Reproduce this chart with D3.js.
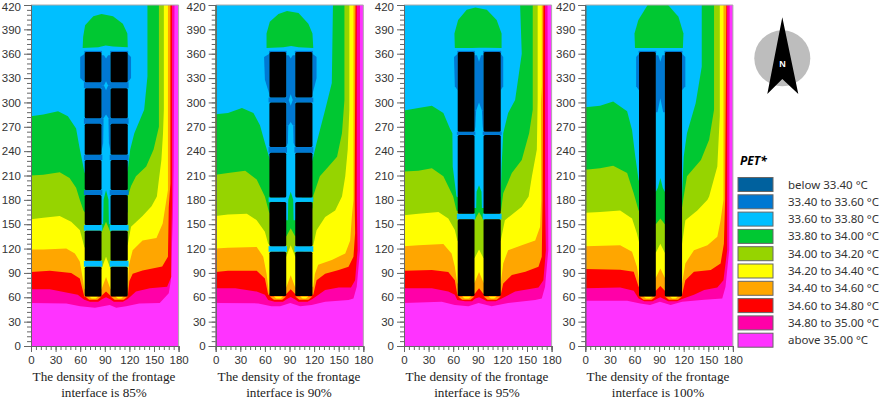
<!DOCTYPE html>
<html>
<head>
<meta charset="utf-8">
<script src="https://d3js.org/d3.v7.min.js"></script>
<style>
body { margin: 0; background: #fff; }
svg { display: block; }
.tick text { font-family: "Liberation Sans", sans-serif; font-size: 11.5px; fill: #333; }
</style>
</head>
<body>
<div id="chart"></div>
<script>
var densities = [85, 90, 95, 100];

// band colours, coolest first
var bandLabels = ["below 33.40 °C", "33.40 to 33.60 °C", "33.60 to 33.80 °C", "33.80 to 34.00 °C", "34.00 to 34.20 °C",
    "34.20 to 34.40 °C", "34.40 to 34.60 °C", "34.60 to 34.80 °C", "34.80 to 35.00 °C", "above 35.00 °C"];
var bandColors = ["#00619e", "#0078d2", "#00bfff", "#00c832", "#96d400", "#ffff00", "#ffa600", "#ff0000", "#ff00a8", "#ff33ff"];

// isotherm outlines, x then y. each one runs from the left edge to the top
// order: 35.0, 34.8, 34.6, 34.4, 34.2, 34.0, 33.8
var lines85 = [
    [[0,53],[43,52.5],[60,49],[78,47],[88,49],[96,50.5],[104,47],[116,49],[132,52.5],[157,53],[168,65],[170.5,80],[173,159],[174,221],[175,420]],
    [[0,70],[23,70],[43,66],[57,63],[65,57],[72,54.5],[82,54.5],[87,58],[91.5,60],[96,58],[101,54.5],[112,54.5],[118,58],[128,67],[145,71],[166,73],[171,85],[171,126],[172,176],[172,420]],
    [[0,91],[23,92.6],[49,90],[59.5,83],[63.5,67],[65,61],[86,62],[91.5,67],[97,62],[118,62],[120,80],[124,89],[136,93],[160,98],[167,110],[168,171],[170,200],[170,420]],
    [[0,119],[15,119],[43,120],[53.5,114],[59.5,104],[63.5,81],[65,70],[86,70],[91.5,85],[97,70],[118,72],[119.5,100],[124,118],[136,130],[153,133],[160.6,151],[167,192],[167,420]],
    [[0,156],[15,158],[35,160],[49,153],[59.5,143],[63,130],[65,122],[86,95],[91.5,110],[97,95],[118,125],[122,147],[136,160],[147,172],[153.5,184],[156,205],[159,229],[161,262],[162,291],[162,420]],
    [[0,210],[15,211],[35,214],[47,207],[55,195],[59.5,180],[64,167],[86,140],[91.5,153],[97,140],[118,165],[118,184],[122,197],[128,209],[140.5,221],[149.5,242],[156,270],[156,420]],
    [[0,283],[15,285],[33,289],[45,283],[55,268],[59,245],[63,225],[65,215],[86,150],[88,150],[88.5,180],[91.5,192],[94.5,180],[95,150],[97,150],[118,217],[121,242],[126,262],[138,291],[142,332],[142,420]]
];
var lines90 = [
    [[0,53],[52,52.5],[68,49],[78.5,49],[91,53],[103,49],[117,50.4],[133.5,54.5],[162,56.6],[168,58.6],[172,73],[176,118],[176,420]],
    [[0,71],[24,71],[50,67],[60,63],[64,56.6],[72,54.5],[82,54.5],[87,58],[91.5,60.5],[96,58],[101,54.5],[112,54.5],[118,58],[133.5,69],[150,72],[165,72],[170,81],[173,118],[172,180],[172,420]],
    [[0,91],[15,92.7],[50,92.7],[60,83],[64,63],[86,64],[91.5,70],[97,64],[119,63],[123,81],[133.5,89],[150,93.5],[162,97.6],[168,110],[170,139],[169.5,180],[170.5,420]],
    [[0,120],[15,121],[50,122],[58,110],[62,89],[65,65],[86,72],[91.5,87],[97,72],[119,73],[121,89],[125,100],[141.6,106],[158,114],[164,130],[166,159],[168,180],[168,420]],
    [[0,160],[15,162],[38,163],[50,155],[60,140.6],[64,126],[86,110],[91.5,124],[97,110],[119,124],[123,142.7],[133.5,159],[145.7,167],[154,184],[158,209],[161,242],[163,291],[163,420]],
    [[0,211],[15,213],[36,216],[50,205],[60,184],[65,165],[86,135],[91.5,145],[97,135],[118,170],[119,185],[127,209],[137.6,221],[148,233],[154,262],[157,303],[157,420]],
    [[0,285.5],[15,287],[32,293],[46,287],[54,272],[60,250],[65,233],[86,155],[88,155],[88.5,180],[91.5,190],[94.5,180],[95,155],[97,155],[119,233],[123,250],[133.5,291],[141.6,324],[143,420]]
];
var lines95 = [
    [[0,53],[46,54.5],[62,50.4],[78.5,49],[91,53],[107,49],[127,53],[160,56.6],[168,58.6],[172,73],[176,118],[175,420]],
    [[0,71],[34,71],[54,67],[62,63],[65,56.6],[74.5,55],[83,55],[87,58.6],[91.5,60],[96,58],[101,55],[112,55],[118,58],[135.5,67],[164,72],[170,81],[173,118],[172,180],[172,420]],
    [[0,92.7],[34,93.5],[54,91],[62,81],[65,63],[86,64],[91.5,71],[97,64],[118,63],[121,77],[131.5,87.5],[148,91.5],[164,97.6],[168,110],[169,180],[170,420]],
    [[0,123],[17.5,124],[48,125.5],[58,114],[62,97.6],[65,77],[86,78],[91.5,91],[97,78],[118,77],[121,101.7],[127,118],[143.6,124],[160,130],[166,147],[167.3,180],[167,300],[168,320],[168,420]],
    [[0,161],[17.5,163],[42,165],[54,157],[62,143],[65,130],[86,108],[91.5,119],[97,108],[118,130],[123,155],[143.6,171.6],[152,184],[156,209],[162,242],[163,303],[163,420]],
    [[0,215],[17.5,216],[34,219],[48,209],[60,184],[64,167],[86,155],[91.5,165],[97,155],[118.4,167],[121,188],[131.5,213],[143.6,229],[152.6,262],[157,291],[157,420]],
    [[0,290],[17.5,293],[34,296],[48,287],[56,268],[59,262],[59.4,221],[64,184],[86,170],[88,170],[88.5,190],[91.5,198],[94.5,190],[95,170],[97,170],[118,184],[119,221],[121,262],[127,287],[135.5,303],[143.6,360],[141.6,420]]
];
var lines100 = [
    [[0,55.8],[51,55.8],[67,52.5],[79,50.4],[91,54.5],[104,50.4],[118,54.5],[145,57],[167,58.6],[171,73],[175.5,118],[176,420]],
    [[0,71],[42.5,72],[59,68],[65,58.6],[72,55],[82,55],[87,58],[91.5,60],[96,58],[101,55],[112,55],[118,58],[132.5,63],[145,69],[161,72],[168.5,81],[173,118],[173,420]],
    [[0,94.7],[42.5,94],[59,91.4],[65,73],[86,68],[91.5,74],[97,68],[118,63],[122,81],[132.5,91.4],[153,93.5],[165,101.7],[169,126],[170.5,180],[172,420]],
    [[0,123],[42.5,124],[57,116],[63,97.6],[66,77],[86,84],[91.5,95.5],[97,84],[118,77],[122,101.7],[132.5,118],[149,124],[161,134.5],[165,155],[168.5,180],[168.5,420]],
    [[0,164],[18,165],[42.5,167],[57,157],[63,138.6],[66,126],[86,115],[91.5,126],[97,115],[118,126],[122,155],[136.6,167],[149,180],[151,184],[161,221],[164,283],[164,420]],
    [[0,217],[18,219],[34,222],[51,213],[59,188],[65,167],[86,150],[91.5,157],[97,150],[118,171],[120,184],[124,209],[141,229],[151,254],[157,291],[157,420]],
    [[0,294],[18,296],[34,301],[51,289],[57,266],[61,233],[65,204],[86,190],[88.5,195],[91.5,207],[94.5,195],[97,190],[118,184],[120,233],[124,262],[134.6,299],[142,344],[142,420]]
];

// the warm dome above the north end
var dome85 = [[63,367],[63.6,381],[66,395],[76,406],[86,409],[100,406],[112,397],[117.5,385],[118,368],[100,369],[91,370],[82,368]];
var dome90 = [[62,367],[62,385],[66,399.5],[76.5,409],[87,412.6],[101,410],[113,397],[118,385],[119,367],[101,368],[92,369.6],[82.6,368]];
var dome95 = [[62,367],[61.5,385],[66,401.5],[76.5,414],[87,417],[101,414],[113,401.5],[119,385],[119,367],[101,367.5],[92,367.5],[82.6,367]];
var dome100 = [[60.6,367],[60,385],[64.7,401.5],[76,420],[101,420],[113.6,405.6],[119.7,385],[119,367],[99,367],[91,367],[83,367]];

// coolest pockets (33.4 to 33.6), between and beside the blocks
var pockets85 = [
    [[86,358],[89,358],[91.5,354],[94,358],[97,358],[97,321],[94,321],[91.5,326],[89,321],[86,321]],
    [[86,321],[89,321],[91.5,315],[94,321],[97,321],[97,280],[95,280],[91.5,285],[88,280],[86,280]],
    [[86,280],[88.5,280],[88,250],[86,240]],
    [[97,280],[94.5,280],[95,250],[97,240]],
    [[60,356],[65.5,360],[65.5,325],[60,330]],
    [[118,360],[122,356],[122,330],[118,325]]
];
var pockets90 = [
    [[86,358],[89,358],[91.5,354],[94,358],[97,358],[97,303],[94,303],[91.5,310],[89,303],[86,303]],
    [[86,303],[89,303],[91.5,296],[94,303],[97,303],[97,272],[94,272],[91.5,276],[89,272],[86,272]],
    [[86,272],[88.5,272],[88,250],[86,245]],
    [[97,272],[94.5,272],[95,250],[97,245]],
    [[59,356],[65.5,360],[65.5,310],[60,328]],
    [[118,360],[123,356],[123,330],[118,310]]
];
var pockets95 = [
    [[86,358],[89,358],[91.5,350],[94,358],[97,358],[97,290],[95,290],[91.5,300],[88,290],[86,290]],
    [[86,290],[88,290],[87,270],[86,264]],
    [[97,290],[95,290],[96,270],[97,264]],
    [[61,356],[65.5,360],[65.5,315],[62,320]],
    [[118,360],[121,356],[121,320],[118,315]]
];
var pockets100 = [
    [[86,358],[89,358],[91.5,350],[94,358],[97,358],[97,288],[95,288],[91.5,305],[88,288],[86,288]],
    [[62,356],[65.5,360],[65.5,315],[62,320]],
    [[118,360],[122,356],[122,320],[118,315]]
];

// building blocks as [top, bottom]
var blocks85 = [[362,325],[317.5,280.6],[273.6,235.5],[229,192],[186,149],[142,105],[97.6,61]];
var blocks90 = [[362,306],[300,245],[238,183],[177.5,123],[116,61.5]];
var blocks95 = [[362,264],[260,163],[156,61.5]];
var blocks100 = [[362,61]];

// cross passages between blocks as [top, bottom, band index]
var passages85 = [[325,317.5,1],[280.6,273.6,1],[235.5,229,1],[192,186,1],[149,142,2],[105,97.6,2]];
var passages90 = [[306,300,1],[245,238,1],[183,177.5,2],[123,116,2]];
var passages95 = [[264,260,1],[163,156,2]];
var passages100 = [];

// little warm lens under the south end of each block
var lensOrange = [[[66,61],[71,57],[81,57],[86,61]], [[97,61],[102,57],[113,57],[118,61]]];
var lensYellow = [[[71,61],[74,58.5],[79,58.5],[82,61]], [[103,61],[106,58.5],[110,58.5],[113,61]]];

var buildingColumns = [[65.5, 86], [97, 118]];

var panelLines = [lines85, lines90, lines95, lines100];
var panelDomes = [dome85, dome90, dome95, dome100];
var panelPockets = [pockets85, pockets90, pockets95, pockets100];
var panelBlocks = [blocks85, blocks90, blocks95, blocks100];
var panelPassages = [passages85, passages90, passages95, passages100];

var panelLeft = [31, 215.7, 404, 585.3],
    panelWidth = 147.6,
    panelTop = 5,
    panelBottom = 346,
    captionCenter = [104, 289, 477, 658];

var svg = d3.select("#chart").append("svg").attr("width", 879).attr("height", 399);

densities.forEach(function(density, i) {
    var x = d3.scaleLinear().domain([0, 180]).range([panelLeft[i], panelLeft[i] + panelWidth]),
        y = d3.scaleLinear().domain([0, 420]).range([panelBottom, panelTop]);

    var line = d3.line().x(function(d) { return x(d[0]); }).y(function(d) { return y(d[1]); });
    var area = function(pts) { return line(pts) + "Z"; };
    var g = svg.append("g");

    g.append("rect")
        .attr("x", x(0)).attr("y", y(420))
        .attr("width", x(180) - x(0)).attr("height", y(0) - y(420))
        .attr("fill", bandColors[9]);

    // warmest outline first, cooler ones paint over it
    g.selectAll(".iso").data(panelLines[i]).enter().append("path")
        .attr("class", "iso")
        .attr("d", function(d) { return area(d.concat([[0, 420]])); })
        .attr("fill", function(d, k) { return bandColors[8 - k]; });

    g.append("path").attr("d", area(panelDomes[i])).attr("fill", bandColors[3]);

    g.selectAll(".pocket").data(panelPockets[i]).enter().append("path")
        .attr("class", "pocket")
        .attr("d", area)
        .attr("fill", bandColors[1]);

    g.selectAll(".lensO").data(lensOrange).enter().append("path")
        .attr("class", "lensO").attr("d", area).attr("fill", bandColors[6]);
    g.selectAll(".lensY").data(lensYellow).enter().append("path")
        .attr("class", "lensY").attr("d", area).attr("fill", bandColors[5]);

    buildingColumns.forEach(function(col) {
        // cool cap along the north face
        g.append("rect")
            .attr("x", x(col[0] - 0.5)).attr("y", y(363.5))
            .attr("width", x(col[1] + 0.5) - x(col[0] - 0.5)).attr("height", y(361) - y(363.5))
            .attr("fill", bandColors[1]);

        g.selectAll(null).data(panelPassages[i]).enter().append("rect")
            .attr("x", x(col[0] - 1))
            .attr("y", function(d) { return y(d[0]); })
            .attr("width", x(col[1] + 1) - x(col[0] - 1))
            .attr("height", function(d) { return y(d[1]) - y(d[0]); })
            .attr("fill", function(d) { return bandColors[d[2]]; });

        g.selectAll(null).data(panelBlocks[i]).enter().append("rect")
            .attr("x", x(col[0]))
            .attr("y", function(d) { return y(d[0]); })
            .attr("width", x(col[1]) - x(col[0]))
            .attr("height", function(d) { return y(d[1]) - y(d[0]); })
            .attr("rx", 1.5)
            .attr("fill", "#000");
    });

    // frame
    g.append("path")
        .attr("d", "M" + x(0) + "," + y(420) + "H" + x(180) + "V" + y(0))
        .attr("fill", "none").attr("stroke", "#aaa");

    var xMinor = d3.axisBottom(x).tickValues(d3.range(0, 181, 6)).tickSize(4).tickFormat("");
    var xMajor = d3.axisBottom(x).tickValues(d3.range(0, 181, 30)).tickSize(6).tickPadding(4);
    var yMinor = d3.axisLeft(y).tickValues(d3.range(0, 421, 6)).tickSize(4).tickFormat("");
    var yMajor = d3.axisLeft(y).tickValues(d3.range(0, 421, 30)).tickSize(7).tickPadding(3);

    [[xMinor, "b"], [xMajor, "b"], [yMinor, "l"], [yMajor, "l"]].forEach(function(a) {
        var ax = g.append("g").call(a[0]);
        if (a[1] == "b") ax.attr("transform", "translate(0," + panelBottom + ")");
        else ax.attr("transform", "translate(" + panelLeft[i] + ",0)");
        ax.selectAll("line, path").attr("stroke", "#666");
        // keep the top label inside the page
        if (a[0] === yMajor) ax.selectAll(".tick text").filter(function(d) { return d == 420; }).attr("dy", "0.48em");
    });

    var caption = g.append("text")
        .attr("text-anchor", "middle")
        .style("font-family", "'Liberation Serif', serif")
        .style("font-size", "13.2px")
        .attr("fill", "#222");
    caption.append("tspan").attr("x", captionCenter[i]).attr("y", 381).text("The density of the frontage");
    caption.append("tspan").attr("x", captionCenter[i]).attr("y", 397).text("interface is " + density + "%");
});

// legend
svg.append("text")
    .attr("x", 740).attr("y", 165)
    .style("font-family", "'Noto Sans', sans-serif")
    .style("font-size", "12px")
    .style("font-weight", "bold")
    .style("font-style", "italic")
    .text("PET*");

var legend = svg.selectAll(".legend").data(bandLabels).enter().append("g")
    .attr("class", "legend")
    .attr("transform", function(d, i) { return "translate(738," + (177.5 + i * 17.3) + ")"; });

legend.append("rect")
    .attr("width", 35).attr("height", 14)
    .attr("fill", function(d, i) { return bandColors[i]; })
    .attr("stroke", "#666");

legend.append("text")
    .attr("x", 50).attr("y", 11)
    .style("font-family", "'Noto Sans', sans-serif")
    .style("font-size", "11.5px")
    .attr("fill", "#333")
    .text(function(d) { return d; });

// north arrow
var north = svg.append("g");
north.append("circle").attr("cx", 782.3).attr("cy", 58.3).attr("r", 28).attr("fill", "#bdbdbd");
north.append("path").attr("d", "M782.3,17.3L798.3,94L782.3,79L767.3,94Z").attr("fill", "#000");
north.append("text")
    .attr("x", 782.5).attr("y", 67)
    .attr("text-anchor", "middle")
    .style("font-family", "'Liberation Sans', sans-serif")
    .style("font-size", "9px")
    .style("font-weight", "bold")
    .attr("fill", "#fff")
    .text("N");
</script>
</body>
</html>
